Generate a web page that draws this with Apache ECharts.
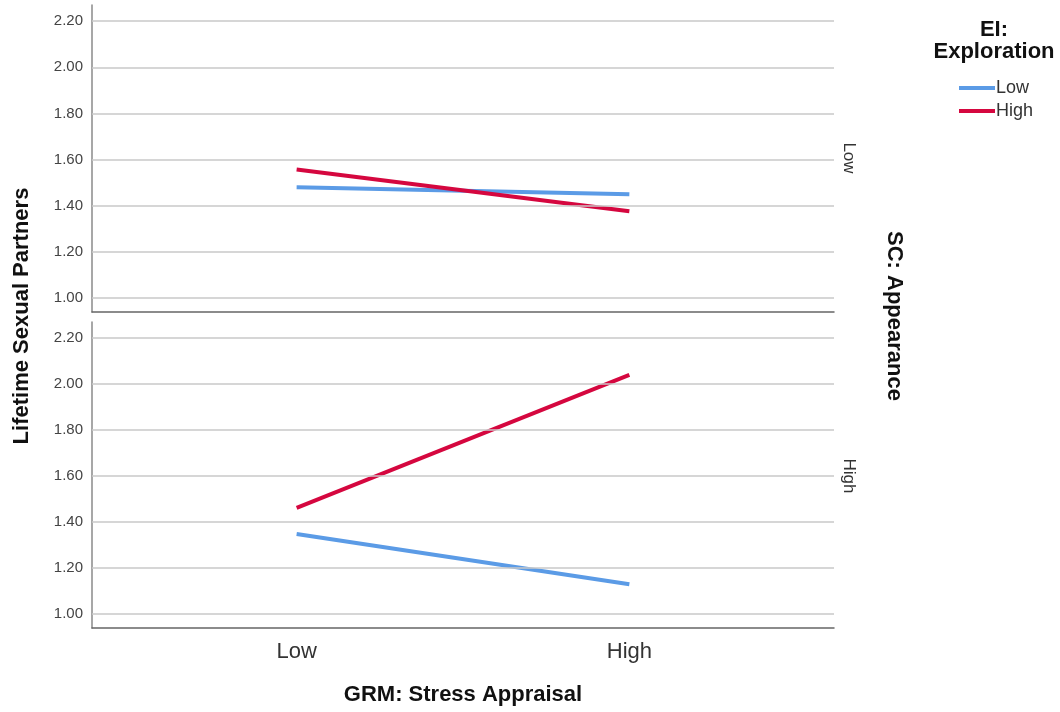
<!DOCTYPE html>
<html>
<head>
<meta charset="utf-8">
<script src="https://cdn.jsdelivr.net/npm/echarts@6/dist/echarts.min.js"></script>
<style>
  html, body { margin: 0; padding: 0; background: #fff; }
  #main { width: 1060px; height: 712px; }
</style>
</head>
<body>
<div id="main"></div>
<script>
var myChart = echarts.init(document.getElementById('main'));

// GRM: Stress Appraisal levels (x positions 0 and 1)
var grmLevels = ['Low', 'High'];
// panel labels, SC: Appearance
var scPanels = ['Low', 'High'];
// EI: Exploration legend
var eiLevels = ['Low', 'High'];
var yTicks = [1.00, 1.20, 1.40, 1.60, 1.80, 2.00, 2.20];

// Lifetime Sexual Partners, estimated means
var scLowEiLow = [1.48, 1.45];
var scLowEiHigh = [1.557, 1.376];
var scHighEiLow = [1.349, 1.130];
var scHighEiHigh = [1.462, 2.040];

var blue = '#5B9BE6';
var red = '#D5073F';
var font = 'Liberation Sans, Arial, sans-serif';

function pts(vals) {
    return vals.map(function (v, i) { return [i, v]; });
}

function yAx(idx) {
    return {
        type: 'value',
        gridIndex: idx,
        min: 0.94,
        max: 2.27,
        axisLine: { show: true, onZero: false, lineStyle: { color: '#8a8a8a', width: 1.5 } },
        axisTick: { show: false },
        axisLabel: {
            customValues: yTicks,
            formatter: function (v) { return v.toFixed(2); },
            color: '#444', fontSize: 15, fontFamily: font, margin: 9
        },
        splitLine: { show: false }
    };
}

function xAx(idx, showLabel) {
    return {
        type: 'value',
        gridIndex: idx,
        min: -0.615,
        max: 1.615,
        axisLine: { show: true, onZero: false, lineStyle: { color: '#666', width: 1.5 } },
        axisTick: { show: false },
        axisLabel: {
            show: showLabel,
            customValues: [0, 1],
            formatter: function (v) { return grmLevels[Math.round(v)]; },
            color: '#333', fontSize: 22, fontFamily: font, margin: 13
        },
        splitLine: { show: false }
    };
}

function gridLines() {
    return {
        silent: true,
        symbol: 'none',
        label: { show: false },
        lineStyle: { color: '#c9c9c9', width: 1.5, type: 'solid' },
        data: yTicks.map(function (t) { return { yAxis: t }; })
    };
}

function lineSeries(name, color, vals, idx, withGrid) {
    var s = {
        name: name,
        type: 'line',
        xAxisIndex: idx,
        yAxisIndex: idx,
        data: pts(vals),
        symbol: 'none',
        lineStyle: { color: color, width: 4 },
        itemStyle: { color: color },
        z: 3,
        animation: false
    };
    if (withGrid) s.markLine = gridLines();
    return s;
}

var option = {
    backgroundColor: '#fff',
    animation: false,
    grid: [
        { left: 92, right: 226, top: 5, height: 307 },
        { left: 92, right: 226, top: 322, height: 306 }
    ],
    xAxis: [xAx(0, false), xAx(1, true)],
    yAxis: [yAx(0), yAx(1)],
    legend: {
        orient: 'vertical',
        left: 954,
        top: 74,
        itemWidth: 36,
        itemHeight: 4,
        itemGap: 5,
        icon: 'rect',
        data: eiLevels,
        textStyle: { color: '#333', fontSize: 18, fontFamily: font, padding: [0, 0, 0, -4] }
    },
    series: [
        lineSeries(eiLevels[0], blue, scLowEiLow, 0, true),
        lineSeries(eiLevels[1], red, scLowEiHigh, 0, false),
        lineSeries(eiLevels[0], blue, scHighEiLow, 1, true),
        lineSeries(eiLevels[1], red, scHighEiHigh, 1, false)
    ],
    graphic: [
        {
            type: 'text', x: 22, y: 316, rotation: Math.PI / 2,
            style: { text: 'Lifetime Sexual Partners', font: 'bold 22px ' + font, fill: '#111', align: 'center', verticalAlign: 'middle' }
        },
        {
            type: 'text', x: 894, y: 316, rotation: -Math.PI / 2,
            style: { text: 'SC: Appearance', font: 'bold 22px ' + font, fill: '#111', align: 'center', verticalAlign: 'middle' }
        },
        {
            type: 'text', x: 849, y: 158, rotation: -Math.PI / 2,
            style: { text: scPanels[0], font: '17px ' + font, fill: '#333', align: 'center', verticalAlign: 'middle' }
        },
        {
            type: 'text', x: 849, y: 476, rotation: -Math.PI / 2,
            style: { text: scPanels[1], font: '17px ' + font, fill: '#333', align: 'center', verticalAlign: 'middle' }
        },
        {
            type: 'text', x: 463, y: 695,
            style: { text: 'GRM: Stress Appraisal', font: 'bold 22px ' + font, fill: '#111', align: 'center', verticalAlign: 'middle' }
        },
        {
            type: 'text', x: 994, y: 41,
            style: { text: 'EI:\nExploration', font: 'bold 22px ' + font, fill: '#111', align: 'center', verticalAlign: 'middle', lineHeight: 22 }
        }
    ]
};
myChart.setOption(option);
</script>
</body>
</html>
